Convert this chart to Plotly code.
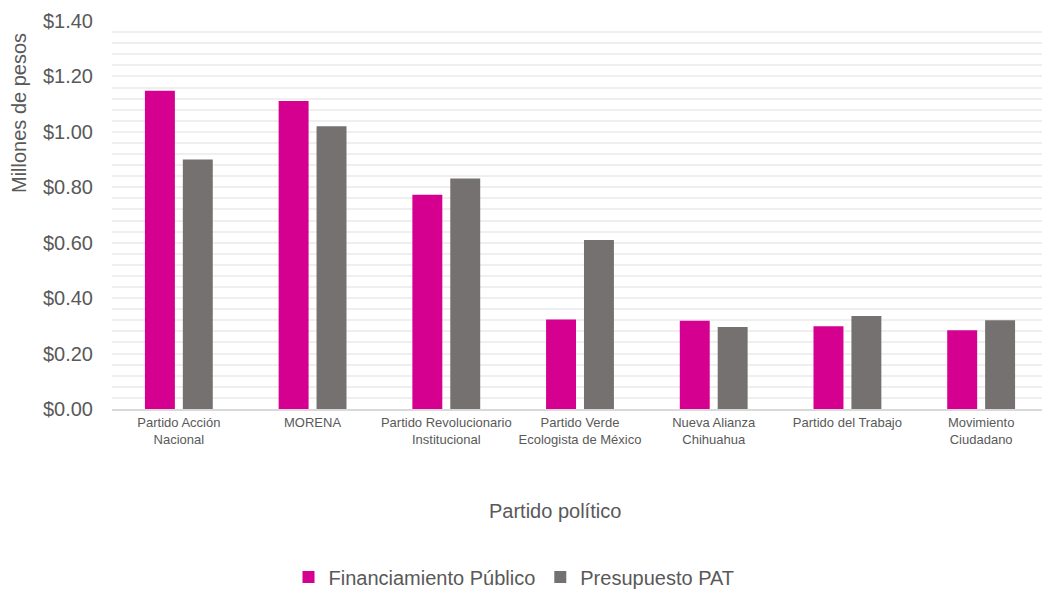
import plotly.graph_objects as go

categories = [
    "Partido Acción<br>Nacional",
    "MORENA",
    "Partido Revolucionario<br>Institucional",
    "Partido Verde<br>Ecologista de México",
    "Nueva Alianza<br>Chihuahua",
    "Partido del Trabajo",
    "Movimiento<br>Ciudadano",
]
financiamiento = [1.148, 1.111, 0.773, 0.323, 0.318, 0.299, 0.284]
presupuesto = [0.900, 1.020, 0.832, 0.610, 0.296, 0.336, 0.320]
y_tick_values = [0.0, 0.2, 0.4, 0.6, 0.8, 1.0, 1.2, 1.4]
y_tick_labels = ["$0.00", "$0.20", "$0.40", "$0.60", "$0.80", "$1.00", "$1.20", "$1.40"]

series_names = ["Financiamiento Público", "Presupuesto PAT"]
colors = ["#D5008F", "#767171"]

fig = go.Figure()
fig.add_trace(go.Bar(x=categories, y=financiamiento, name=series_names[0],
                     marker=dict(color=colors[0], line=dict(width=0))))
fig.add_trace(go.Bar(x=categories, y=presupuesto, name=series_names[1],
                     marker=dict(color=colors[1], line=dict(width=0))))

font_family = "Arial"

# page has an 8px body margin; figure drawn at offset (8, 8)
OFF = 8
W, H = 1042, 582
L, R, T, B = 112 - OFF, 2, 21 - OFF, H - (409 - OFF)
pw, ph = W - L - R, H - T - B

def px_x(px):
    return (px - OFF - L) / pw

def px_y(py):
    return (H - B - (py - OFF)) / ph

fig.update_layout(
    width=W, height=H,
    margin=dict(l=L, r=R, t=T, b=B, autoexpand=False),
    paper_bgcolor="white", plot_bgcolor="white",
    barmode="group", bargap=0.433, bargroupgap=0.21,
    font=dict(family=font_family, color="#595959"),
    showlegend=True,
    legend=dict(orientation="h", xref="container", yref="container",
                x=(514 - OFF) / W, xanchor="center",
                y=1 - (577 - OFF) / H, yanchor="middle",
                font=dict(size=20, color="#595959"), itemwidth=30,
                traceorder="normal"),
    xaxis=dict(showgrid=False, showline=True, linecolor="#d9d9d9", linewidth=2,
               automargin=False,
               ticks="", tickfont=dict(size=13, color="#595959"), tickangle=0),
    yaxis=dict(range=[0, 1.4], tickmode="array", tickvals=y_tick_values,
               ticktext=y_tick_labels, ticklabeloverflow="allow", automargin=False,
               showgrid=False, zeroline=False, showline=False, ticks="",
               tickfont=dict(size=20, color="#595959"), ticklabelstandoff=18,
               minor=dict(dtick=0.04, tick0=0, showgrid=True, gridcolor="#efefef",
                          gridwidth=1.5, ticks="")),
    annotations=[
        dict(text="Millones de pesos", xref="paper", yref="paper",
             x=px_x(19), xanchor="center", y=px_y(113), yanchor="middle",
             textangle=-90, showarrow=False,
             font=dict(size=20, color="#595959")),
        dict(text="Partido político", xref="paper", yref="paper",
             x=px_x(555), xanchor="center", y=px_y(511), yanchor="middle",
             showarrow=False, font=dict(size=20, color="#595959")),
    ],
)

fig.write_html("out.html")
